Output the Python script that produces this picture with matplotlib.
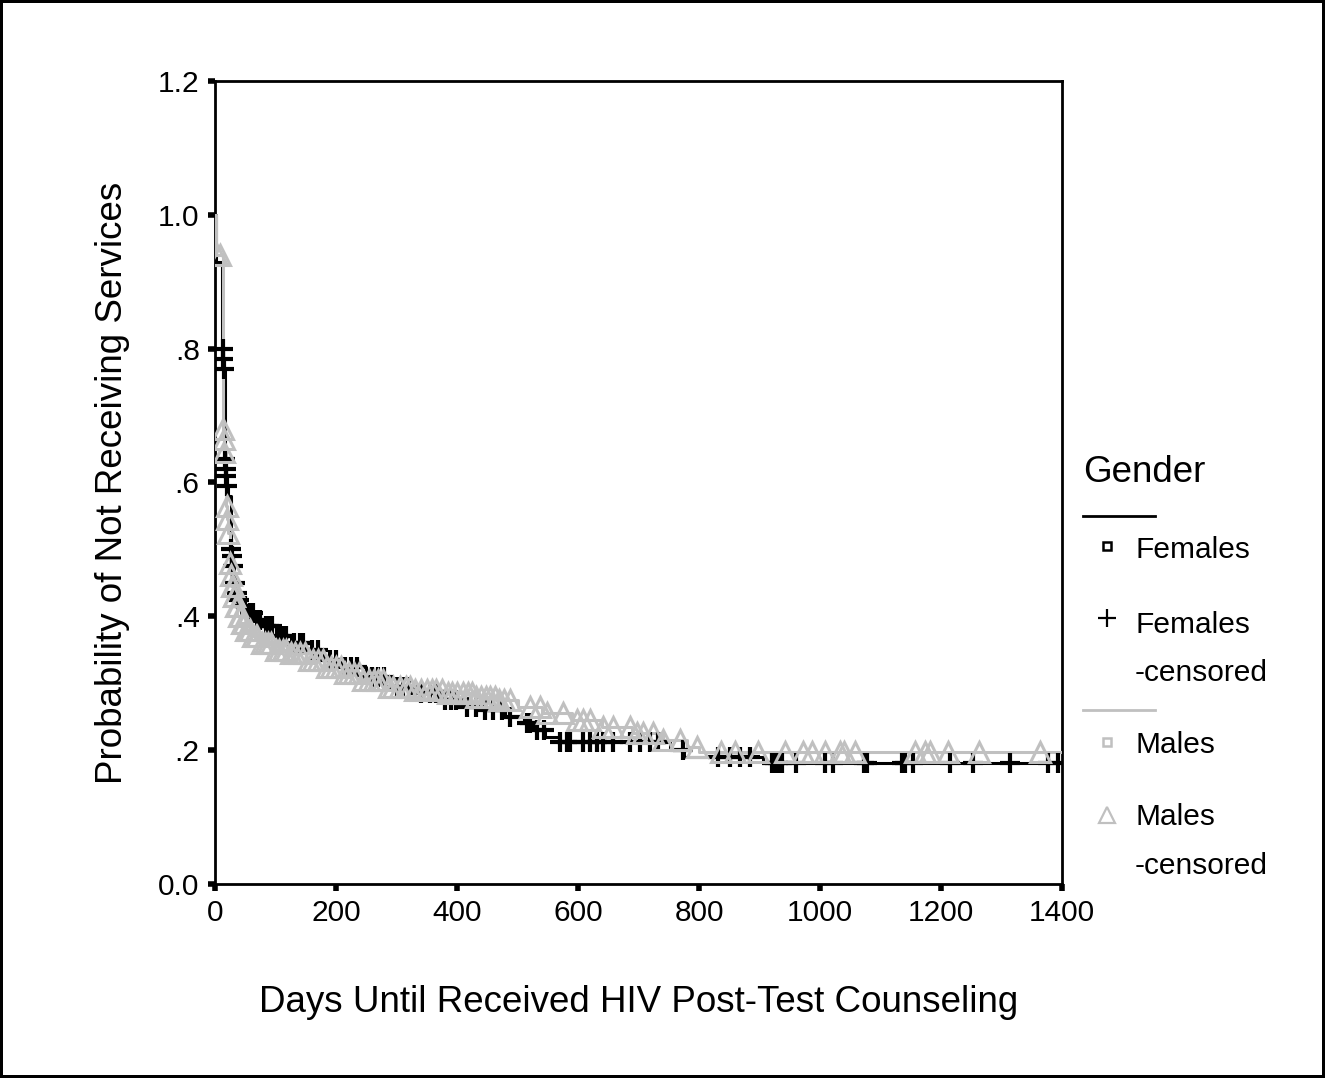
import numpy as np
import matplotlib
matplotlib.use("Agg")
import matplotlib.pyplot as plt
from matplotlib.lines import Line2D

plt.rcParams['font.family'] = ['Liberation Sans', 'DejaVu Sans']

# Kaplan-Meier steps, females (black)
fem_time = [0, 2, 12, 13, 14, 16, 17, 18, 19, 22, 26, 27, 28, 31, 34, 38, 44, 55, 65, 80,
            100, 125, 150, 180, 210, 250, 290, 330, 370, 410, 440, 480, 510, 525, 545, 570,
            752, 775, 905, 1400]
fem_surv = [1.0, 0.93, 0.80, 0.785, 0.77, 0.635, 0.62, 0.61, 0.595, 0.58, 0.50, 0.49, 0.475,
            0.45, 0.435, 0.425, 0.415, 0.405, 0.395, 0.385, 0.37, 0.36, 0.35, 0.335, 0.325,
            0.31, 0.295, 0.285, 0.275, 0.265, 0.26, 0.25, 0.24, 0.23, 0.22, 0.212,
            0.20, 0.19, 0.181, 0.181]
fem_cens = [12.5, 13.5, 14.5, 16.5, 17.5, 18.5, 20, 26.5, 27.5, 29, 33, 36, 40, 46, 50, 58,
            62, 70, 75, 85, 90, 95, 105, 110, 118, 130, 140, 145, 160, 170, 190, 200, 215,
            225, 235, 260, 270, 280, 300, 310, 320, 340, 355, 365, 380, 390, 399, 416, 432,
            446, 460, 474, 488, 515, 521, 532, 543, 570, 581, 587, 609, 620, 631, 642, 658,
            686, 702, 719, 733, 774, 832, 851, 868, 884, 920, 926, 931, 937, 961, 1008, 1022,
            1072, 1077, 1135, 1140, 1154, 1215, 1253, 1314, 1377, 1394]

# males (grey)
male_time = [0, 1, 13, 14, 15, 19, 20, 21, 25, 26, 27, 30, 33, 37, 42, 50, 60, 75, 95, 120,
             150, 180, 210, 240, 280, 330, 380, 430, 470, 500, 540, 590, 640, 690, 740, 780,
             800, 1400]
male_surv = [1.0, 0.94, 0.68, 0.665, 0.645, 0.565, 0.545, 0.525, 0.48, 0.462, 0.445, 0.43,
             0.415, 0.40, 0.39, 0.38, 0.37, 0.36, 0.35, 0.345, 0.335, 0.325, 0.315, 0.305,
             0.295, 0.29, 0.285, 0.28, 0.275, 0.265, 0.255, 0.245, 0.235, 0.225, 0.215,
             0.205, 0.198, 0.198]
male_cens = [3, 8, 13.5, 14.5, 15.5, 19.5, 20.5, 21.5, 25.5, 26.5, 27.5, 29, 31, 32, 35, 36,
             39, 41, 45, 48, 52, 55, 58, 63, 67, 70, 78, 82, 88, 92, 100, 105, 112, 118, 125,
             132, 140, 148, 155, 162, 170, 178, 185, 192, 200, 208, 215, 222, 230, 238, 245,
             255, 262, 270, 278, 288, 295, 305, 315, 322, 330, 340, 350, 358, 365, 375, 385,
             392, 400, 410, 418, 425, 432, 440, 448, 455, 462, 470, 478, 488, 521, 537, 548,
             576, 598, 609, 620, 642, 658, 686, 697, 708, 724, 741, 769, 796, 837, 860, 898,
             942, 972, 986, 1008, 1033, 1039, 1058, 1157, 1174, 1182, 1212, 1262, 1364]

GREY = '#c0c0c0'


def level_at(times, surv, t):
    idx = np.searchsorted(times, t, side='right') - 1
    return np.asarray(surv)[idx]


W, H = 1325, 1078
fig = plt.figure(figsize=(W / 100, H / 100), dpi=100)
fig.patch.set_edgecolor('black')
fig.patch.set_linewidth(3)
ax = fig.add_axes([215 / W, 1 - 884 / H, (1062 - 215) / W, (884 - 81) / H])

ax.step(fem_time, fem_surv, where='post', color='black', lw=2.2, zorder=3)
ax.step(male_time, male_surv, where='post', color=GREY, lw=2.2, zorder=3)
ax.plot(fem_cens, level_at(fem_time, fem_surv, fem_cens), ls='none', marker='+',
        color='black', ms=14, mew=3, zorder=4)
ax.plot(male_cens, level_at(male_time, male_surv, male_cens), ls='none', marker='^',
        mfc='none', mec=GREY, ms=14, mew=2.2, zorder=5)

ax.set_xlim(0, 1400)
ax.set_ylim(0, 1.2)
ax.set_xticks([0, 200, 400, 600, 800, 1000, 1200, 1400])
ax.set_yticks([0, 0.2, 0.4, 0.6, 0.8, 1.0, 1.2])
ax.set_yticklabels(['0.0', '.2', '.4', '.6', '.8', '1.0', '1.2'])
ax.tick_params(axis='both', direction='out', length=5, width=4, labelsize=21.5, pad=6)
for s in ax.spines.values():
    s.set_linewidth(2)

ax.set_xlabel('Days Until Received HIV Post-Test Counseling', fontsize=26.5)
ax.xaxis.set_label_coords(0.5, (884 - 1003) / 803)
ax.xaxis.label.set_va('center')
ax.set_ylabel('Probability of Not Receiving Services', fontsize=26.5)
ax.yaxis.set_label_coords((113 - 215) / 847, 0.5)
ax.yaxis.label.set_va('center')


# legend drawn by hand, pixel positions
def fx(px):
    return px / W


def fy(py):
    return 1 - py / H


fig.text(fx(1083), fy(472), 'Gender', fontsize=26.5, va='center', ha='left')
fig.add_artist(Line2D([fx(1083), fx(1155)], [fy(516), fy(516)], color='black', lw=2))
fig.add_artist(Line2D([fx(1107)], [fy(546)], marker='s', ms=6, mfc='none', mec='black', mew=1.8))
fig.text(fx(1135), fy(550), 'Females', fontsize=21.5, va='center')
fig.add_artist(Line2D([fx(1107)], [fy(618)], marker='+', ms=13, color='black', mew=1.6))
fig.text(fx(1135), fy(625), 'Females', fontsize=21.5, va='center')
fig.text(fx(1135), fy(673), '-censored', fontsize=21.5, va='center')
fig.add_artist(Line2D([fx(1083), fx(1155)], [fy(710), fy(710)], color=GREY, lw=2))
fig.add_artist(Line2D([fx(1107)], [fy(742)], marker='s', ms=6, mfc='none', mec=GREY, mew=1.8))
fig.text(fx(1135), fy(745), 'Males', fontsize=21.5, va='center')
fig.add_artist(Line2D([fx(1107)], [fy(815)], marker='^', ms=11, mfc='none', mec=GREY, mew=1.6))
fig.text(fx(1135), fy(817), 'Males', fontsize=21.5, va='center')
fig.text(fx(1135), fy(866), '-censored', fontsize=21.5, va='center')

fig.savefig('out.png', dpi=100, edgecolor=fig.get_edgecolor())
